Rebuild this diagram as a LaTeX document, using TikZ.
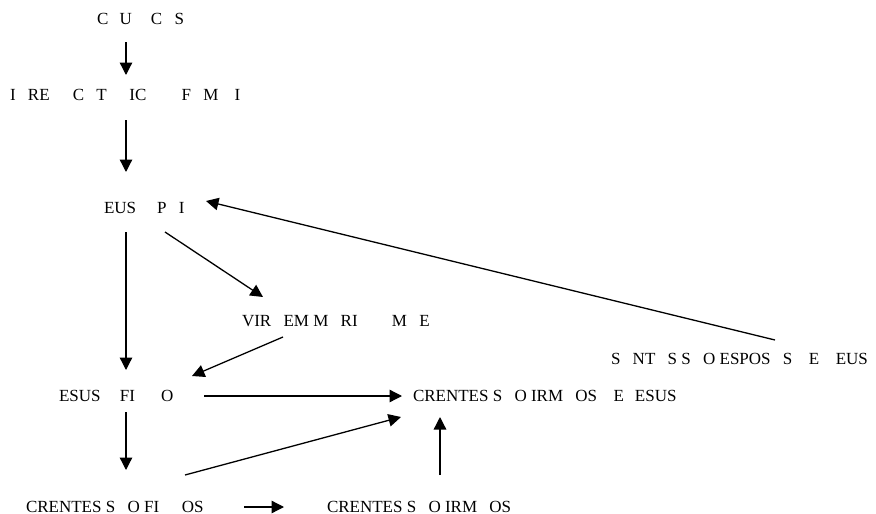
\documentclass[tikz,border=0pt]{standalone}
\usepackage{fontspec}
\setmainfont{Liberation Serif}
\usetikzlibrary{arrows.meta}
\begin{document}
\begin{tikzpicture}[x=1pt,y=-1pt,
  lbl/.style={inner sep=0pt,outer sep=0pt,anchor=base west,font=\fontsize{17}{20}\selectfont},
  arr/.style={line width=1.3pt,-{Triangle[length=12.5pt,width=12.5pt]}}]
\useasboundingbox[fill=white] (0,0) rectangle (876,514);

% labels
\node[lbl] (cucs)   at (97,24)    {C\hphantom{R}U\hspace{19pt}C\hphantom{A}S};
\node[lbl] (ire)    at (10,100)   {I\hphantom{G}RE\hphantom{JA} C\hphantom{A}T\hphantom{ÓL}IC\hphantom{A}\hspace{23pt}F\hphantom{A}M\hphantom{ÍL}I};
\node[lbl] (deus)   at (104,213)  {EUS\hspace{21pt}P\hphantom{A}I};
\node[lbl] (vir)    at (242,326)  {VIR\hphantom{G}EM M\hphantom{A}RI\hphantom{A}\hspace{22pt}M\hphantom{Ã}E};
\node[lbl] (snt)    at (611,364)  {S\hphantom{A}NT\hphantom{A}S S\hphantom{Ã}O ESPOS\hphantom{A}S \hphantom{D}E \hphantom{D}EUS};
\node[lbl] (jesus)  at (59,401.5) {ESUS\hspace{19.4pt}FI\hspace{26pt}O};
\node[lbl] (crirmj) at (413,401)  {CRENTES S\hphantom{Ã}O IRM\hphantom{Ã}OS \hphantom{D}E \hphantom{J}ESUS};
\node[lbl] (crfi)   at (26,512)   {CRENTES S\hphantom{Ã}O FI\hphantom{LH}OS};
\node[lbl] (crirm)  at (327,512)  {CRENTES S\hphantom{Ã}O IRM\hphantom{Ã}OS};

% connectors
\draw[arr] ([shift={(29,18)}]cucs.base west)    -- ([shift={(116,-25)}]ire.base west);
\draw[arr] ([shift={(116,20)}]ire.base west)    -- ([shift={(22,-41)}]deus.base west);
\draw[arr] ([shift={(22,19)}]deus.base west)    -- ([shift={(67,-31.5)}]jesus.base west);
\draw[arr] ([shift={(61,19)}]deus.base west)    -- ([shift={(21,-29)}]vir.base west);
\draw[arr] ([shift={(41,11)}]vir.base west)     -- ([shift={(133,-25.5)}]jesus.base west);
\draw[arr] ([shift={(164,-24)}]snt.base west)   -- ([shift={(102,-12)}]deus.base west);
\draw[arr] ([shift={(145,-5.5)}]jesus.base west) -- ([shift={(-11,-5)}]crirmj.base west);
\draw[arr] ([shift={(67,10.5)}]jesus.base west) -- ([shift={(100,-42)}]crfi.base west);
\draw[arr] ([shift={(159,-37)}]crfi.base west)  -- ([shift={(-12,16)}]crirmj.base west);
\draw[arr] ([shift={(113,-37)}]crirm.base west) -- ([shift={(27,16)}]crirmj.base west);
\draw[arr] ([shift={(218,-5)}]crfi.base west)   -- ([shift={(-43,-5)}]crirm.base west);
\end{tikzpicture}
\end{document}
